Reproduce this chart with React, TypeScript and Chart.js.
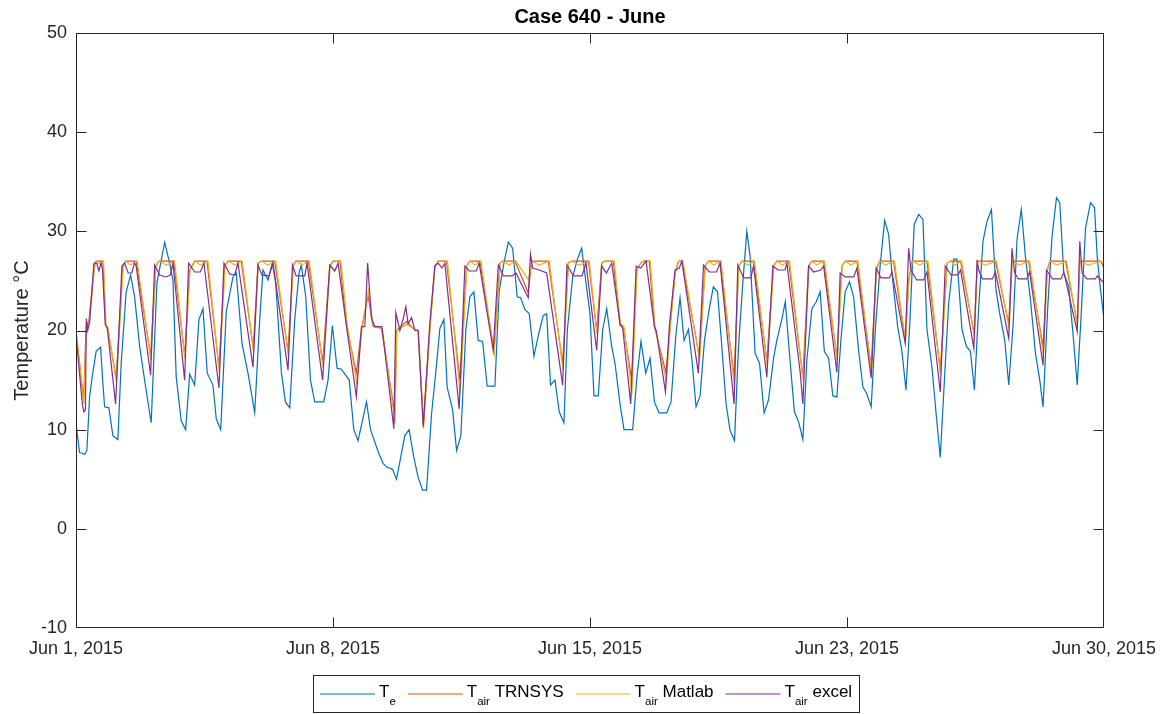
import React, { useEffect, useRef } from "react";
import { Chart, registerables } from "chart.js";

Chart.register(...registerables);

// ---------- data (hours since Jun 1, 2015 00:00, temperature °C) ----------
const xTickHours = [0, 179.75, 359.5, 539.25, 719];
const xTickLabels = ["Jun 1, 2015", "Jun 8, 2015", "Jun 15, 2015", "Jun 23, 2015", "Jun 30, 2015"];
const yTickValues = [-10, 0, 10, 20, 30, 40, 50];

const teSeries: [number, number][] = [
  [0, 10.6], [2.5, 7.7], [4.8, 7.6], [6, 7.5], [7.6, 7.9], [9.5, 13.3], [11.3, 15.3], [14.1, 17.9], [17.2, 18.3],
  [18.8, 14.7], [20, 12.3], [23, 12.2], [25.8, 9.4], [29.3, 9], [31.6, 16.7], [35.1, 23.9], [38.2, 25.6], [41, 23.4],
  [44.5, 18.4], [48.7, 14.3], [52.6, 10.7], [56.6, 24.8], [62, 28.9], [65.5, 26.8], [67.8, 25.1], [70.1, 15.3],
  [73.6, 10.9], [76.7, 10], [79.5, 15.6], [83, 14.5], [86, 21.1], [88.8, 22.2], [91.8, 15.7], [95.8, 14.5], [98.1, 11.1],
  [101.2, 10], [105.1, 21.9], [109.8, 25.4], [112.1, 25.8], [116.1, 18.7], [120.3, 15.7], [125, 11.7], [128.5, 21.1],
  [130.8, 26.1], [134.3, 25.1], [137.3, 26.8], [139.7, 24.8], [143.7, 15.7], [146.5, 12.8], [149.5, 12.2], [153, 21.1],
  [156, 25.8], [157.6, 26.6], [160.7, 23.4], [164, 15], [167, 12.8], [173.3, 12.8], [176.3, 15], [179.3, 20.5],
  [182.6, 16.2], [185.6, 16.1], [191.1, 15], [194.3, 10], [197.3, 8.9], [203.2, 12.8], [206, 10], [211.3, 7.8],
  [214.8, 6.6], [217.6, 6.2], [221.4, 6.0], [224.2, 5.0], [230, 9.4], [233, 10], [236.3, 7.2], [239.3, 5.2], [242.4, 3.9],
  [245.2, 3.9], [248.7, 11.6], [252.2, 16.6], [254.5, 20.2], [257.3, 21.1], [259.6, 14.3], [263.4, 12], [266.2, 7.9],
  [269.2, 9.4], [272.7, 20.1], [275.5, 23.4], [278.3, 23.9], [281.3, 19], [284.4, 18.9], [287.6, 14.4], [293, 14.4],
  [296, 24], [299.3, 26.8], [302.4, 28.9], [305.4, 28.3], [308.6, 23.4], [311, 23.3], [314, 22.1], [317, 21.7],
  [320.3, 17.4], [323.4, 19.5], [326.8, 21.5], [329.2, 21.7], [331.9, 14.5], [335, 15], [338, 11.8], [341.3, 10.7],
  [343.7, 20.1], [347.4, 25.4], [350.7, 27.2], [353.7, 28.3], [356.7, 24.8], [359.5, 21.7], [362.3, 13.4], [365.3, 13.4],
  [368.4, 20.1], [371.2, 22.2], [374.7, 18.4], [377, 16.7], [380.5, 12.6], [383.3, 10], [389.4, 10], [392.3, 15.3],
  [395.2, 18.9], [398.5, 15.7], [401.5, 17.2], [404.6, 12.8], [407.8, 11.7], [413.2, 11.7], [416.2, 12.8], [419.5, 19.4],
  [422.5, 23.3], [425.3, 19], [428.4, 20.1], [430.7, 17.2], [433.7, 12.3], [436.5, 13.4], [439.6, 19], [442.8, 22.1],
  [445.8, 24.4], [448.7, 23.9], [451.7, 18.4], [454.7, 12.6], [457.5, 9.9], [460.6, 8.9], [463.4, 18.4], [466.4, 24.8],
  [469.2, 30], [471.5, 27.5], [475, 17.7], [478.1, 16.7], [481.3, 11.7], [484.4, 13], [487.9, 17.2], [490.2, 19],
  [493.8, 21.2], [496.1, 22.9], [499.6, 16.7], [502.5, 11.8], [505.4, 10.8], [508.4, 9], [511.2, 17], [514.7, 22.2],
  [517.8, 22.9], [520.5, 23.9], [523.4, 17.9], [526.4, 17.2], [529.4, 13.4], [532.2, 13.3], [535, 19], [538, 23.9],
  [541, 24.9], [543.9, 23.4], [547.4, 18], [550.4, 14.3], [553.2, 13.6], [556.2, 12.3], [559.1, 20.1], [562.5, 26.6],
  [565.6, 31.1], [568.4, 29.7], [570.7, 25.8], [574.7, 20.4], [577.7, 17.9], [580.5, 14], [583.1, 20.4], [586.3, 30.7],
  [589.4, 31.7], [592.4, 31.2], [595.2, 20.1], [598.7, 16.3], [601.8, 11.3], [604.5, 7.2], [607.3, 14.7], [610.4, 22.8],
  [613.9, 27.2], [616.2, 27.2], [619.7, 20.1], [622.8, 18.4], [625.6, 17.9], [628.4, 14], [631.4, 22.4], [634.4, 29],
  [637.2, 31], [640.3, 32.2], [643.5, 24.1], [646.1, 21.7], [649.6, 19], [652.4, 14.5], [655.4, 20.4], [658.2, 29.2],
  [661.2, 32.2], [664.1, 27.4], [667.6, 23.1], [671.1, 17.7], [674.1, 15], [676.4, 12.3], [679.7, 22.4], [682.7, 29.5],
  [685.8, 33.4], [688.1, 32.9], [690.9, 25.8], [694.4, 24.4], [697.5, 19.4], [700.3, 14.5], [703.1, 21.7], [706.1, 30.3],
  [709.6, 32.9], [712.4, 32.4], [714.3, 27.4], [716.6, 24.1], [719, 21.2],
];

const trnsysSeries: [number, number][] = [
  [0, 20], [5.3, 13], [7.1, 20.4], [9, 20.9], [13, 26.8], [14.1, 27], [18.8, 27], [20.7, 20.5], [21.9, 20.4], [28.1, 15.2],
  [32.8, 26.5], [34.7, 27], [42.1, 27], [52.2, 17.4], [55.7, 26.5], [58, 27], [68.3, 27], [76, 17.5], [79.5, 26.1],
  [83, 27], [91.6, 27], [100, 16.3], [104, 26.5], [106.3, 27], [115.6, 27], [124, 18.2], [127.3, 26.8], [129.6, 27],
  [139, 27], [148.3, 17.9], [151.8, 26.5], [153.7, 27], [162.5, 27], [172.5, 16.8], [177.5, 26.5], [179.9, 27],
  [184.6, 27], [189.2, 20.5], [196.1, 15.7], [199.7, 20.2], [204.3, 23.5], [207.8, 20.4], [213.7, 20.2], [223, 11.6],
  [224.2, 20], [231.2, 20.9], [235.9, 20.2], [239.3, 20], [242.9, 10.6], [247.5, 20.3], [251, 26.5], [253.3, 27],
  [259.1, 27], [268.5, 15], [273.2, 26.5], [275.5, 27], [282.5, 27], [292.3, 18], [296.5, 26.8], [298.4, 27], [307, 27],
  [316.3, 23.8], [318.7, 27], [330.3, 27], [340.4, 16.7], [344.3, 26.8], [346.7, 27], [358.4, 27], [364.2, 20],
  [367.7, 26.8], [370, 27], [375.8, 27], [380.5, 20.5], [382.9, 20.4], [388.7, 15], [392.2, 26.1], [395, 26.8], [397, 27],
  [401, 27], [404.6, 20.4], [412.7, 15.7], [415.5, 20.4], [419, 25.8], [421.4, 27], [423.8, 27], [436, 17.4],
  [440, 26.5], [442.3, 27], [450.5, 27], [460.3, 15.3], [463.4, 26.5], [465.8, 27], [473.9, 27], [483.2, 17],
  [487.9, 26.5], [490.2, 27], [498.4, 27], [508.4, 15.3], [512.4, 26.5], [514.7, 27], [522.9, 27], [532.2, 17.4],
  [535.7, 26.5], [538, 27], [546.2, 27], [556.2, 16.3], [559.7, 26.1], [562, 27], [571.8, 27], [580, 19], [582.4, 25],
  [584.8, 27], [595.2, 27], [604.5, 16], [609.3, 26.8], [611.7, 27], [618.7, 27], [628.2, 19.7], [630.5, 27],
  [643.1, 27], [652.4, 20.7], [654.7, 27], [666.3, 27], [676.4, 18.4], [679.3, 26.1], [681.1, 27], [692.1, 27],
  [700.3, 20.7], [702.1, 27], [716.6, 27], [719, 26.3],
];

const matlabSeries: [number, number][] = [
  [0, 19.8], [5.5, 12.6], [7.2, 20.2], [9.2, 20.7], [13.3, 26.8], [14.5, 27], [16.5, 26.7], [19.3, 27], [21, 20.5],
  [22.3, 20.3], [28.3, 14.8], [33, 26.5], [35, 27], [38, 26.6], [42.8, 27], [52.4, 17], [56, 26.5], [58.3, 27],
  [63, 26.6], [69, 27], [76.2, 17.1], [79.8, 26.1], [83.3, 27], [87, 26.6], [92.3, 27], [100.2, 15.8], [104.3, 26.5],
  [106.6, 27], [111, 26.6], [116.3, 27], [124.2, 17.8], [127.5, 26.8], [129.9, 27], [134, 26.6], [139.7, 27],
  [148.5, 17.5], [152, 26.5], [154, 27], [158, 26.6], [163.2, 27], [172.7, 16.3], [177.8, 26.5], [180.2, 27],
  [185.3, 27], [189.8, 20.5], [196.3, 14.7], [199.9, 20], [204.5, 24], [208, 20.4], [214.2, 20.2], [223.2, 10.6],
  [224.4, 20], [231.4, 20.6], [236, 20.2], [239.5, 20], [243.1, 10.1], [247.7, 20.3], [251.2, 26.5], [253.5, 27],
  [259.8, 27], [268.7, 13.6], [273.4, 26.5], [275.7, 27], [279, 26.6], [283.2, 27], [292.5, 17.6], [296.7, 26.8],
  [298.6, 27], [303, 26.6], [307.7, 27], [316.5, 25.1], [318.9, 27], [324, 26.6], [331, 27], [340.6, 16], [344.5, 26.8],
  [346.9, 27], [352, 26.6], [359, 27], [364.4, 19.6], [367.9, 26.8], [370.2, 27], [376.5, 27], [380.8, 20.7],
  [383.2, 20.4], [388.9, 13.6], [392.4, 26.1], [395.2, 26.8], [397.2, 27], [401.7, 27], [405, 20.4], [412.9, 14.8],
  [415.7, 20.4], [419.2, 25.8], [421.6, 27], [424.5, 27], [436.2, 17], [440.2, 26.5], [442.5, 27], [446, 26.6],
  [451.2, 27], [460.5, 14.3], [463.6, 26.5], [466, 27], [470, 26.6], [474.6, 27], [483.4, 16.6], [488.1, 26.5],
  [490.4, 27], [494, 26.6], [499.1, 27], [508.6, 15], [512.6, 26.5], [514.9, 27], [518, 26.6], [523.6, 27], [532.4, 17],
  [535.9, 26.5], [538.2, 27], [542, 26.6], [546.9, 27], [556.4, 15.8], [559.9, 26.1], [562.2, 27], [566, 26.6],
  [572.5, 27], [580.2, 18.8], [582.6, 25], [585, 27], [590, 26.6], [595.9, 27], [604.7, 15.6], [609.5, 26.8],
  [611.9, 27], [615, 26.6], [619.4, 27], [628.4, 19.3], [630.7, 27], [636, 26.6], [643.8, 27], [652.6, 20.3],
  [654.9, 27], [660, 26.6], [667, 27], [676.6, 17.6], [679.5, 26.1], [681.3, 27], [686, 26.6], [692.8, 27],
  [700.5, 20.4], [702.3, 27], [708, 26.6], [717, 27], [719, 26.6],
];

const excelSeries: [number, number][] = [
  [0, 19.5], [4.5, 12.5], [5.5, 11.8], [6.6, 12], [7.2, 21.2], [8.2, 20], [9.5, 20.8], [12.5, 26.7], [14.5, 26.8],
  [16, 26], [17.5, 26.8], [18.5, 26.2], [20.5, 20.6], [21.8, 20.3], [27.7, 12.6], [32.1, 26.5], [34, 26.8], [36.5, 25.8],
  [39, 25.8], [40.9, 26.8], [42.1, 26.5], [52.2, 15.5], [55, 26.6], [58.5, 25.6], [63, 25.4], [66, 25.6], [67.8, 26.8],
  [76, 15], [78.8, 26.8], [83, 25.9], [87, 25.9], [89.5, 26.8], [90.3, 25.8], [100, 14.2], [103.5, 26.8], [107.5, 25.7],
  [111, 25.6], [113.3, 26.8], [123.8, 16.3], [127.3, 26.6], [130, 25.6], [135, 25.5], [137.8, 26.8], [148.3, 16],
  [151.4, 26.6], [154, 25.5], [160, 25.5], [161.6, 26.8], [172.5, 15], [177.5, 26.6], [181, 26], [183.3, 26.8],
  [189.2, 20.4], [196.1, 13.3], [199.7, 20.4], [202, 20.4], [204, 26.8], [206.7, 21.2], [209, 20.4], [214, 20.4],
  [222.3, 10.1], [223.7, 21.8], [226.5, 20], [228.9, 21.2], [230.7, 22.4], [232.3, 20.7], [234.7, 21.3], [237, 20],
  [239.3, 20], [242.9, 10.3], [247.5, 20.7], [251, 26.5], [253.3, 26.8], [256, 26.3], [258, 26.8], [268, 12.1],
  [272, 26.5], [275, 26], [280, 26], [282, 26.8], [291.8, 18], [295.4, 26.6], [299, 25.5], [305, 25.5], [307.7, 25.8],
  [316.3, 23.3], [317.9, 27.7], [319.4, 26.3], [324, 26.1], [329.2, 25.8], [340.4, 14.5], [343.4, 26.6], [348, 25.5],
  [354, 25.5], [356.7, 26.8], [364.2, 18], [367.7, 26.5], [371, 25.8], [374.7, 26.8], [380.5, 20.7], [382.4, 20.2],
  [388, 12.6], [391.8, 26.5], [395, 26.3], [398.7, 27], [404.6, 20.4], [405.8, 20], [412.3, 13.8], [415, 20.4],
  [419, 26.1], [422, 26.3], [423.8, 27], [435.3, 15.7], [438.9, 26.6], [443, 25.9], [448, 25.9], [450.5, 26.8],
  [460.3, 12.6], [462.9, 26.6], [467, 25.3], [472, 25.3], [473.9, 26.5], [483.2, 15.3], [487.4, 26.5], [491, 26.1],
  [496, 26.1], [497.2, 26.8], [506.6, 15.7], [508.4, 12.6], [512.4, 26.5], [516, 25.9], [521, 26.1], [522.9, 26.5],
  [532.2, 15.8], [534.5, 25.8], [538, 25.4], [544, 25.4], [546.2, 26.3], [556.2, 15.2], [559.7, 26.3], [563, 25.3],
  [569, 25.3], [570.7, 25.9], [580, 18.7], [582.4, 28.3], [584, 26.1], [588, 25.1], [593, 25.1], [595.2, 25.9],
  [604.5, 13.8], [608, 26.5], [612, 25.6], [617, 25.6], [618.7, 26.1], [628, 18.2], [630.3, 27.1], [631.4, 26.1],
  [634, 25.2], [641, 25.2], [643.1, 25.9], [652.4, 19.2], [654.7, 28.3], [656.4, 25.9], [659, 25.2], [665, 25.2],
  [667, 25.9], [676.4, 16.5], [678.8, 26.1], [683, 25.2], [689, 25.2], [690.9, 25.9], [700.3, 19.9], [702.1, 29],
  [703.7, 25.8], [707, 25.2], [713, 25.2], [714.3, 25.5], [719, 24.8],
];

const seriesColors = ["#0072BD", "#D95319", "#EDB120", "#7E2F8E"];
const legendMain = ["T", "T", "T", "T"];
const legendSub = ["e", "air", "air", "air"];
const legendRest = ["", " TRNSYS", " Matlab", " excel"];
const titleText = "Case 640 - June";
const yLabelText = "Temperature °C";

// ---------- styling ----------
const AXIS = "#262626";
const FONT = '"Liberation Sans", Arial, Helvetica, sans-serif';

const matlabDecor = {
  id: "matlabDecor",
  afterDraw(chart: any) {
    const { ctx, chartArea: a, scales } = chart;
    const xs = scales.x;
    const ys = scales.y;
    ctx.save();
    ctx.strokeStyle = AXIS;
    ctx.lineWidth = 1;
    const L = Math.round(a.left) + 0.5;
    const R = Math.round(a.right) - 0.5;
    const T = Math.round(a.top) + 0.5;
    const B = Math.round(a.bottom) - 0.5;
    const clamp = (v: number, lo: number, hi: number) => Math.max(lo, Math.min(hi, v));
    ctx.beginPath();
    ctx.rect(L, T, R - L, B - T);
    for (const v of yTickValues) {
      const py = clamp(Math.round(ys.getPixelForValue(v)) + 0.5, T, B);
      ctx.moveTo(L, py);
      ctx.lineTo(L + 10, py);
      ctx.moveTo(R, py);
      ctx.lineTo(R - 10, py);
    }
    for (const v of xTickHours) {
      const px = clamp(Math.round(xs.getPixelForValue(v)) + 0.5, L, R);
      ctx.moveTo(px, B);
      ctx.lineTo(px, B - 10);
      ctx.moveTo(px, T);
      ctx.lineTo(px, T + 10);
    }
    ctx.stroke();

    // title
    ctx.fillStyle = "#000";
    ctx.font = `bold 20px ${FONT}`;
    ctx.textAlign = "center";
    ctx.textBaseline = "alphabetic";
    ctx.fillText(titleText, (a.left + a.right) / 2, 23);

    // y label
    ctx.save();
    ctx.translate(28, (a.top + a.bottom) / 2);
    ctx.rotate(-Math.PI / 2);
    ctx.fillStyle = AXIS;
    ctx.font = `20px ${FONT}`;
    ctx.textAlign = "center";
    ctx.textBaseline = "alphabetic";
    ctx.fillText(yLabelText, 0, 0);
    ctx.restore();

    // legend
    const boxL = 313.5, boxR = 859.5, boxT = 675.5, boxB = 712.5;
    ctx.fillStyle = "#fff";
    ctx.fillRect(boxL, boxT, boxR - boxL, boxB - boxT);
    ctx.strokeStyle = AXIS;
    ctx.lineWidth = 1;
    ctx.strokeRect(boxL, boxT, boxR - boxL, boxB - boxT);
    const mainFont = `17px ${FONT}`;
    const subFont = `11.5px ${FONT}`;
    let x = 320;
    const lineY = 694;
    const baseY = 697;
    const subY = 705;
    for (let i = 0; i < seriesColors.length; i++) {
      ctx.strokeStyle = seriesColors[i];
      ctx.lineWidth = 1.2;
      ctx.beginPath();
      ctx.moveTo(x, lineY);
      ctx.lineTo(x + 55, lineY);
      ctx.stroke();
      let tx = x + 59;
      ctx.fillStyle = "#000";
      ctx.textAlign = "left";
      ctx.font = mainFont;
      ctx.fillText(legendMain[i], tx, baseY);
      tx += ctx.measureText(legendMain[i]).width;
      ctx.font = subFont;
      ctx.fillText(legendSub[i], tx, subY);
      tx += ctx.measureText(legendSub[i]).width;
      ctx.font = mainFont;
      ctx.fillText(legendRest[i], tx, baseY);
      tx += ctx.measureText(legendRest[i]).width;
      x = tx + 12;
    }
    ctx.restore();
  },
};

export default function App() {
  const ref = useRef<HTMLCanvasElement>(null);
  useEffect(() => {
    if (!ref.current) return;
    const mk = (s: [number, number][]) => s.map(([x, y]) => ({ x, y }));
    const chart = new Chart(ref.current, {
      type: "line",
      data: {
        datasets: [
          { label: "Te", data: mk(teSeries), borderColor: seriesColors[0], order: 3 },
          { label: "Tair TRNSYS", data: mk(trnsysSeries), borderColor: seriesColors[1], order: 2 },
          { label: "Tair Matlab", data: mk(matlabSeries), borderColor: seriesColors[2], order: 1 },
          { label: "Tair excel", data: mk(excelSeries), borderColor: seriesColors[3], order: 0 },
        ].map((d) => ({ ...d, borderWidth: 1.2, pointRadius: 0, fill: false, tension: 0 })),
      },
      options: {
        animation: false,
        responsive: false,
        devicePixelRatio: 1,
        layout: { padding: { top: 33, right: 62, left: 0, bottom: 0 } },
        plugins: { legend: { display: false }, title: { display: false }, tooltip: { enabled: false } },
        scales: {
          x: {
            type: "linear",
            min: 0,
            max: 719,
            grid: { display: false, drawTicks: false },
            border: { display: false },
            afterBuildTicks: (s: any) => {
              s.ticks = xTickHours.map((v) => ({ value: v }));
            },
            afterFit: (s: any) => {
              s.height = 86;
            },
            ticks: {
              autoSkip: false,
              maxRotation: 0,
              minRotation: 0,
              padding: 10,
              color: AXIS,
              font: { family: FONT, size: 18 },
              callback: (_v: any, i: number) => xTickLabels[i],
            },
          },
          y: {
            min: -10,
            max: 50,
            grid: { display: false, drawTicks: false },
            border: { display: false },
            afterFit: (s: any) => {
              s.width = 76;
            },
            ticks: {
              stepSize: 10,
              padding: 9,
              color: AXIS,
              font: { family: FONT, size: 18 },
            },
          },
        },
      },
      plugins: [matlabDecor],
    } as any);
    return () => chart.destroy();
  }, []);
  return (
    <div style={{ position: "absolute", left: 0, top: 0, width: 1166, height: 714, background: "#fff" }}>
      <canvas ref={ref} width={1166} height={714} style={{ display: "block" }} />
    </div>
  );
}
